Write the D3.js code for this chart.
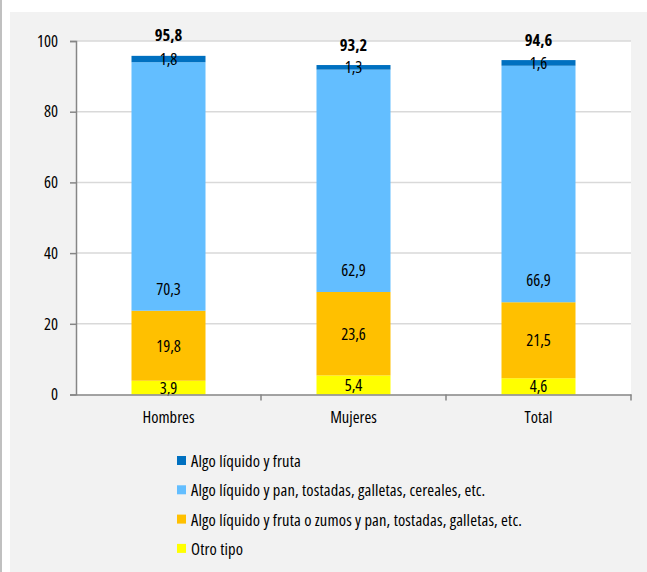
<!DOCTYPE html>
<html><head><meta charset="utf-8">
<script src="https://cdn.jsdelivr.net/npm/d3@7"></script>
<style>
body{margin:0;background:#fff;}
text{font-family:'Open Sans',sans-serif;font-stretch:condensed;fill:#000;}
</style></head>
<body>
<svg id="c" width="647" height="572"></svg>
<script>
const categories = ["Hombres","Mujeres","Total"];
const seriesNames = ["Otro tipo","Algo líquido y fruta o zumos y pan, tostadas, galletas, etc.","Algo líquido y pan, tostadas, galletas, cereales, etc.","Algo líquido y fruta"];
const otroTipo = [3.9,5.4,4.6];
const frutaZumosPan = [19.8,23.6,21.5];
const liquidoPan = [70.3,62.9,66.9];
const liquidoFruta = [1.8,1.3,1.6];
const totals = [95.8,93.2,94.6];
const yTicks = [0,20,40,60,80,100];
const colors = ["#ffff00","#ffc000","#63beff","#0070c0"];
const FONT = "'Open Sans',sans-serif";

const svg = d3.select("#c");
svg.append("rect").attr("x",0).attr("y",0).attr("width",2).attr("height",572).attr("fill","#c0c0c0");
svg.append("rect").attr("x",10).attr("y",12).attr("width",637).attr("height",560).attr("fill","#f2f2f2");

const L=76,R=631,T=41,B=394.5;
svg.append("rect").attr("x",L).attr("y",T).attr("width",R-L).attr("height",B-T).attr("fill","#fff");

const x = d3.scaleBand().domain(categories).range([L,R]).paddingInner(0).paddingOuter(0);
const y = d3.scaleLinear().domain([0,100]).range([B,T]);

svg.append("g").selectAll("line").data(yTicks.filter(d=>d>0)).join("line")
  .attr("x1",L).attr("x2",R).attr("y1",d=>y(d)).attr("y2",d=>y(d))
  .attr("stroke","#d9d9d9").attr("stroke-width",1.5);

const seriesArr = [otroTipo,frutaZumosPan,liquidoPan,liquidoFruta];
const rows = categories.map((c,i)=>{const o={cat:c}; seriesArr.forEach((s,j)=>o["s"+j]=s[i]); return o;});
const stack = d3.stack().keys(["s0","s1","s2","s3"])(rows);
const bw = x.bandwidth()*0.4;
const g = svg.append("g");
stack.forEach((layer,j)=>{
  g.selectAll(null).data(layer).join("rect")
    .attr("x",d=>x(d.data.cat)+x.bandwidth()/2-bw/2)
    .attr("width",bw)
    .attr("y",d=>y(d[1])).attr("height",d=>y(d[0])-y(d[1]))
    .attr("fill",colors[j]);
});
stack.forEach((layer,j)=>{
  g.selectAll(null).data(layer).join("text")
    .attr("x",d=>x(d.data.cat)+x.bandwidth()/2)
    // light-blue labels sit at the inside base of their segment
    .attr("y",d=> j===2 ? y(d[0])-16 : (y(d[0])+y(d[1]))/2+6)
    .attr("text-anchor","middle").attr("font-size",16.5)
    .text(d=>String(seriesArr[j][categories.indexOf(d.data.cat)]).replace(".",","));
});
g.selectAll(null).data(categories).join("text")
  .attr("x",d=>x(d)+x.bandwidth()/2)
  .attr("y",(d,i)=>y(totals[i])-14.5)
  .attr("text-anchor","middle").attr("font-size",16.5).attr("font-weight","bold")
  .text((d,i)=>String(totals[i]).replace(".",","));

const ya = svg.append("g").attr("transform",`translate(${L},0)`)
  .call(d3.axisLeft(y).tickValues(yTicks).tickSize(6).tickPadding(12).tickFormat(d3.format("d")));
ya.select(".domain").attr("stroke","#868686").attr("stroke-width",1.5);
ya.selectAll(".tick line").attr("stroke","#868686").attr("stroke-width",1.5);
ya.selectAll("text").attr("font-size",16.5).attr("font-family",FONT).attr("fill","#000");

const xa = svg.append("g").attr("transform",`translate(0,${B})`)
  .call(d3.axisBottom(x).tickSize(0).tickPadding(17));
xa.select(".domain").attr("stroke","#868686").attr("stroke-width",1.5);
xa.selectAll("text").attr("font-size",16.5).attr("font-family",FONT).attr("fill","#000");
svg.append("g").selectAll("line").data([L+x.bandwidth(),L+2*x.bandwidth(),R]).join("line")
  .attr("x1",d=>d).attr("x2",d=>d).attr("y1",B).attr("y2",B+6)
  .attr("stroke","#868686").attr("stroke-width",1.5);

const legendOrder = [3,2,1,0];
const lg = svg.append("g");
legendOrder.forEach((j,k)=>{
  const yy = 461 + k*29.3;
  lg.append("rect").attr("x",177).attr("y",yy-5).attr("width",9).attr("height",9).attr("fill",colors[j]);
  lg.append("text").attr("x",191).attr("y",yy+6).attr("font-size",16.5).attr("letter-spacing",0.15).text(seriesNames[j]);
});
</script>
</body></html>
